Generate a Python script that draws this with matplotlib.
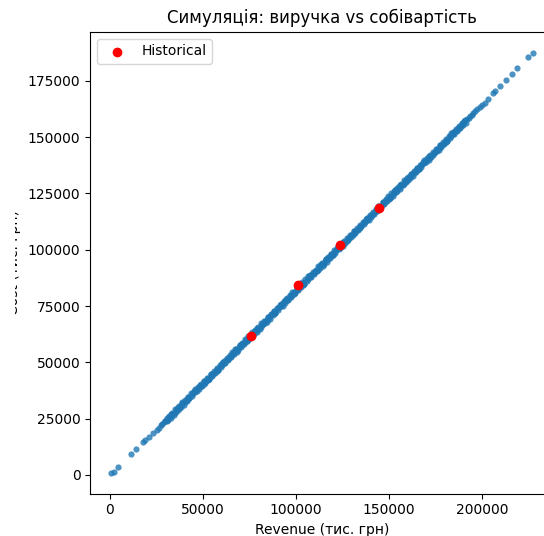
import matplotlib
matplotlib.use('Agg')
import matplotlib.pyplot as plt
from matplotlib.transforms import Bbox, TransformedBbox


# Simulated runs (тис. грн): sparse tails + dense band
sim_revenue = [
    700, 2200, 4500, 11300, 13900, 17900, 19000, 21000, 23300, 25100,
    26300, 27400, 28200, 29000, 29700,
    30200, 30500, 31600, 32700, 33000, 33500, 34900, 35400, 36000, 37100,
    37600, 38800, 38900, 40100, 40800, 42000, 42100, 42700, 44100, 44700,
    45600, 45900, 47000, 48100, 48400, 48900, 50300, 50800, 51400, 52500,
    53000, 54200, 54300, 55500, 56200, 57400, 57500, 58100, 59500, 60100,
    61000, 61300, 62400, 63500, 63800, 64300, 65700, 66200, 66800, 67900,
    68400, 69600, 69700, 70900, 71600, 72800, 72900, 73500, 74900, 75500,
    76400, 76700, 77800, 78900, 79200, 79700, 81100, 81600, 82200, 83300,
    83800, 85000, 85100, 86300, 87000, 88200, 88300, 88900, 90300, 90900,
    91800, 92100, 93200, 94300, 94600, 95100, 96500, 97000, 97600, 98700,
    99200, 100400, 100500, 101700, 102400, 103600, 103700, 104300, 105700, 106300,
    107200, 107500, 108600, 109700, 110000, 110500, 111900, 112400, 113000, 114100,
    114600, 115800, 115900, 117100, 117800, 119000, 119100, 119700, 121100, 121700,
    122600, 122900, 124000, 125100, 125400, 125900, 127300, 127800, 128400, 129500,
    130000, 131200, 131300, 132500, 133200, 134400, 134500, 135100, 136500, 137100,
    138000, 138300, 139400, 140500, 140800, 141300, 142700, 143200, 143800, 144900,
    145400, 146600, 146700, 147900, 148600, 149800, 149900, 150500, 151900, 152500,
    153400, 153700, 154800, 155900, 156200, 156700, 158100, 158600, 159200, 160300,
    160800, 162000, 162100, 163300, 164000, 165200, 165300, 165900, 167300, 167900,
    168800, 169100, 170200, 171300, 171600, 172100, 173500, 174000, 174600, 175700,
    176200, 177400, 177500, 178700, 179400, 180600, 180700, 181300, 182700, 183300,
    184200, 184500, 185600, 186700, 187000, 187500, 188900, 189400, 190000, 191100,
    192000, 192800, 193600, 194500, 195300, 196400, 197500, 198700, 200000,
    201600, 203000, 205700, 207000, 209700, 212900, 216000, 219000, 224700, 227600,
    30400, 31200, 31900, 32700, 33500, 34200, 35000, 35800, 36500, 37300,
    38100, 38900, 39600, 40400, 41200, 41900, 42700, 43500, 44200, 45000,
    45800, 46600, 47300, 48100, 48900, 49600, 50400, 51200, 51900, 52700,
    53500, 54300, 55000, 55800, 56600, 57300, 58100, 58900, 59600, 60400,
    61200, 62000, 62700, 63500, 64300, 65000, 65800, 66600, 67300, 68100,
    68900, 69700, 70400, 71200, 72000, 72700, 73500, 74300, 75000, 75800,
    76600, 77400, 78100, 78900, 79700, 80400, 81200, 82000, 82700, 83500,
    84300, 85100, 85800, 86600, 87400, 88100, 88900, 89700, 90400, 91200,
    92000, 92800, 93500, 94300, 95100, 95800, 96600, 97400, 98100, 98900,
    99700, 100500, 101200, 102000, 102800, 103500, 104300, 105100, 105800, 106600,
    107400, 108200, 108900, 109700, 110500, 111200, 112000, 112800, 113500, 114300,
    115100, 115900, 116600, 117400, 118200, 118900, 119700, 120500, 121200, 122000,
    122800, 123600, 124300, 125100, 125900, 126600, 127400, 128200, 128900, 129700,
    130500, 131300, 132000, 132800, 133600, 134300, 135100, 135900, 136600, 137400,
    138200, 139000, 139700, 140500, 141300, 142000, 142800, 143600, 144300, 145100,
    145900, 146700, 147400, 148200, 149000, 149700, 150500, 151300, 152000, 152800,
    153600, 154400, 155100, 155900, 156700, 157400, 158200, 159000, 159700, 160500,
    161300, 162100, 162800, 163600, 164400, 165100, 165900, 166700, 167400, 168200,
    169000, 169800, 170500, 171300, 172100, 172800, 173600, 174400, 175100, 175900,
    176700, 177500, 178200, 179000, 179800, 180500, 181300, 182100, 182800, 183600,
    184400, 185200, 185900, 186700, 187500, 188200, 189000, 189800, 190500, 191300,
]
sim_cost = [
    1000, 1500, 3700, 9300, 11600, 14500, 15300, 16800, 18500, 20000,
    21000, 22100, 22700, 23300, 23900,
    24600, 24100, 25600, 26200, 27100, 26900, 27700, 28800, 29100, 30400,
    30100, 31300, 32100, 32300, 33100, 33600, 34500, 34000, 35900, 36300,
    37300, 36900, 38300, 38900, 39800, 39600, 40400, 41500, 41800, 43100,
    42800, 44000, 44800, 45000, 45800, 46300, 47200, 46700, 48600, 49000,
    50000, 49600, 51000, 51600, 52500, 52300, 53100, 54200, 54500, 55800,
    55500, 56700, 57500, 57700, 58600, 59000, 59900, 59400, 61400, 61700,
    62700, 62300, 63700, 64300, 65200, 65000, 65800, 66900, 67200, 68500,
    68200, 69400, 70200, 70400, 71300, 71700, 72600, 72100, 74100, 74400,
    75400, 75000, 76400, 77000, 77900, 77700, 78500, 79600, 79900, 81200,
    80900, 82100, 83000, 83100, 84000, 84400, 85300, 84900, 86800, 87100,
    88100, 87700, 89100, 89700, 90600, 90400, 91200, 92300, 92600, 94000,
    93600, 94800, 95700, 95800, 96700, 97100, 98000, 97600, 99500, 99800,
    100800, 100400, 101800, 102400, 103300, 103100, 103900, 105000, 105300, 106700,
    106400, 107500, 108400, 108500, 109400, 109800, 110700, 110300, 112200, 112500,
    113500, 113100, 114500, 115100, 116000, 115800, 116600, 117700, 118000, 119400,
    119100, 120200, 121100, 121200, 122100, 122500, 123400, 123000, 124900, 125200,
    126300, 125800, 127200, 127800, 128800, 128500, 129300, 130400, 130700, 132100,
    131800, 132900, 133800, 133900, 134800, 135200, 136100, 135700, 137600, 137900,
    139000, 138500, 139900, 140500, 141500, 141300, 142000, 143100, 143400, 144800,
    144500, 145600, 146500, 146600, 147500, 147900, 148800, 148400, 150300, 150600,
    151700, 151200, 152700, 153200, 154200, 154000, 154800, 155800, 156100, 157500,
    157900, 158500, 159200, 159900, 160700, 161500, 162400, 163300, 164400,
    165000, 166800, 169700, 170600, 172700, 175300, 177800, 180800, 185700, 187400,
    25300, 24400, 26300, 25500, 27700, 26800, 29200, 28300, 30300, 29400,
    30000, 32200, 31200, 33300, 32700, 34800, 34000, 36200, 35100, 37200,
    38000, 37100, 39000, 38200, 40400, 39500, 41900, 41000, 43000, 42100,
    42700, 44900, 43900, 46000, 45400, 47500, 46700, 48900, 47800, 49900,
    50700, 49800, 51700, 50900, 53100, 52300, 54600, 53700, 55700, 54800,
    55400, 57600, 56600, 58700, 58100, 60200, 59400, 61600, 60500, 62600,
    63400, 62500, 64500, 63600, 65800, 65000, 67300, 66400, 68400, 67500,
    68100, 70300, 69300, 71400, 70800, 72900, 72100, 74300, 73200, 75400,
    76100, 75200, 77200, 76300, 78500, 77700, 80000, 79100, 81100, 80200,
    80800, 83000, 82000, 84100, 83500, 85600, 84900, 87000, 85900, 88100,
    88800, 87900, 89900, 89000, 91200, 90400, 92700, 91800, 93800, 92900,
    93500, 95700, 94700, 96900, 96200, 98300, 97600, 99700, 98600, 100800,
    101500, 100600, 102600, 101700, 103900, 103100, 105400, 104500, 106500, 105600,
    106300, 108400, 107400, 109600, 108900, 111000, 110300, 112400, 111300, 113500,
    114200, 113300, 115300, 114400, 116600, 115800, 118100, 117300, 119200, 118300,
    119000, 121100, 120100, 122300, 121600, 123700, 123000, 125100, 124000, 126200,
    126900, 126000, 128000, 127100, 129300, 128500, 130800, 130000, 131900, 131000,
    131700, 133800, 132800, 135000, 134300, 136400, 135700, 137800, 136700, 138900,
    139600, 138700, 140700, 139800, 142100, 141200, 143500, 142700, 144600, 143700,
    144400, 146500, 145500, 147700, 147000, 149100, 148400, 150500, 149400, 151600,
    152300, 151500, 153400, 152500, 154800, 153900, 156200, 155400, 157300, 156400,
]

# Historical years
hist_revenue = [75600, 101300, 123800, 144400]
hist_cost = [61700, 84300, 102000, 118500]

fig = plt.figure(figsize=(5.44, 5.36), dpi=100)
ax = fig.add_axes([0.1658, 0.0789, 0.8533, 0.8618])

ax.scatter(sim_revenue, sim_cost, s=20, alpha=0.8, linewidths=0, color='tab:blue')
ax.scatter(hist_revenue, hist_cost, color='red', label='Historical')

ax.set_title('Симуляція: виручка vs собівартість')
ax.set_xlabel('Revenue (тис. грн)')
ax.set_ylabel('Cost (тис. грн)')
ax.legend(loc='upper left')

# the left part of the y label is cut off in the reference
ax.yaxis.set_label_coords(-0.149, 0.5)
ylab = ax.yaxis.label
ylab.set_clip_box(TransformedBbox(Bbox([[15 / 544, 0], [1, 1]]), fig.transFigure))
ylab.set_clip_on(True)

fig.savefig('out.png', dpi=100)
